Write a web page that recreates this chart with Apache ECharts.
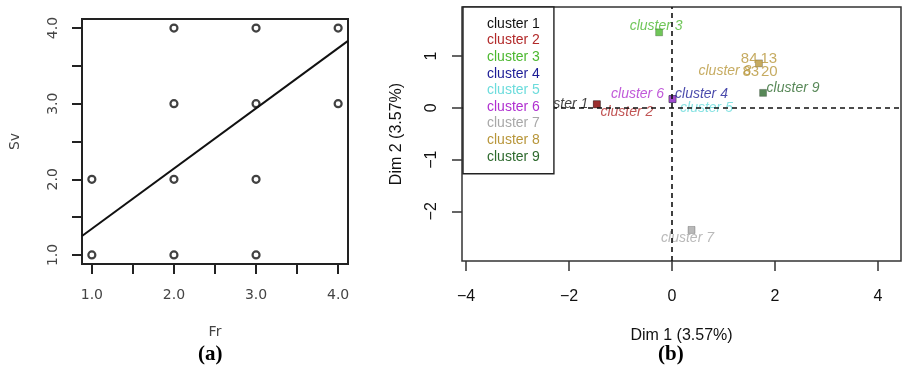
<!DOCTYPE html>
<html>
<head>
<meta charset="utf-8">
<script src="https://cdn.jsdelivr.net/npm/echarts@6/dist/echarts.min.js"></script>
<style>html,body{margin:0;padding:0;background:#fff}#c{width:902px;height:376px}</style>
</head>
<body>
<div id="c"></div>
<script>
// ---- Panel (a) data ----
var frValues = [1, 1, 2, 2, 2, 2, 3, 3, 3, 3, 4, 4];
var svValues = [1, 2, 1, 2, 3, 4, 1, 2, 3, 4, 3, 4];
var fitLineX = [0.88, 4.12];
var fitLineY = [1.25, 3.83];
var aTickValues = [1, 1.5, 2, 2.5, 3, 3.5, 4];
var aLabelValues = [1, 2, 3, 4];

// ---- Panel (b) data ----
var clusterNames = ['cluster 1','cluster 2','cluster 3','cluster 4','cluster 5','cluster 6','cluster 7','cluster 8','cluster 9'];
var clusterDim1 = [-1.46, -1.46, -0.25, 0.01, 0.01, 0.01, 0.38, 1.69, 1.77];
var clusterDim2 = [0.07, 0.07, 1.46, 0.17, 0.17, 0.17, -2.36, 0.86, 0.29];
var clusterColors = ['#111111','#b22a2a','#4cb830','#1c1c96','#6cdcdc','#b030d0','#a8a8a8','#b8963a','#2e6a2e'];
var indNames = ['84', '13', '83', '20'];
var indDim1 = [1.50, 1.88, 1.53, 1.89];
var indDim2 = [0.95, 0.95, 0.70, 0.70];
var bTickX = [-4, -2, 0, 2, 4];
var bTickY = [-2, -1, 0, 1];

// label offsets for cluster names (style only)
var labelOffsets = [[-35,0],[30,8],[-3,-6],[29,-5],[34,9],[-35,-5],[-4,8],[-34,8],[30,-5]];

function minus(v){ return String(v).replace('-', '\u2212'); }

var series = [];
// Panel (a)
series.push({
  type: 'scatter', xAxisIndex: 0, yAxisIndex: 0,
  symbol: 'circle', symbolSize: 7,
  itemStyle: { color: 'rgba(255,255,255,0)', borderColor: '#111', borderWidth: 2.2 },
  data: frValues.map(function(x, i){ return [x, svValues[i]]; }),
  z: 3, silent: true
});
series.push({
  type: 'line', xAxisIndex: 0, yAxisIndex: 0,
  showSymbol: false, symbol: 'none',
  lineStyle: { color: '#111', width: 2 },
  data: fitLineX.map(function(x, i){ return [x, fitLineY[i]]; }),
  z: 2, silent: true
});
// Panel (b) dashed lines at 0
series.push({
  type: 'scatter', xAxisIndex: 1, yAxisIndex: 1, data: [], silent: true,
  markLine: {
    silent: true, symbol: 'none', label: { show: false },
    lineStyle: { color: '#111', type: [5, 4], width: 1.6 },
    data: [{ xAxis: 0 }, { yAxis: 0 }]
  }
});
clusterNames.forEach(function(name, i){
  series.push({
    name: name, type: 'scatter', xAxisIndex: 1, yAxisIndex: 1,
    symbol: 'rect', symbolSize: 7,
    itemStyle: { color: clusterColors[i], borderColor: 'rgba(0,0,0,0.35)', borderWidth: 0.8 },
    label: {
      show: true, position: 'inside', offset: labelOffsets[i],
      formatter: name, color: clusterColors[i],
      fontFamily: 'Liberation Sans', fontStyle: 'italic', fontSize: 14
    },
    data: [[clusterDim1[i], clusterDim2[i]]],
    z: 3, silent: true
  });
});
series.push({
  type: 'scatter', xAxisIndex: 1, yAxisIndex: 1,
  symbolSize: 0,
  label: {
    show: true, position: 'inside', color: clusterColors[7],
    fontFamily: 'Liberation Sans', fontSize: 15,
    formatter: function(p){ return p.data[2]; }
  },
  data: indNames.map(function(n, i){ return [indDim1[i], indDim2[i], n]; }),
  z: 3, silent: true
});

var aAxisLabel = {
  customValues: aLabelValues,
  formatter: function(v){ return Number(v).toFixed(1); },
  color: '#444', fontFamily: 'DejaVu Sans', fontSize: 14
};
var bLabel = { fontFamily: 'Liberation Sans', fontSize: 16, color: '#111' };

var option = {
  animation: false,
  backgroundColor: '#fff',
  title: [
    { text: '(a)', left: 198, top: 344, padding: 0,
      textStyle: { fontFamily: 'Liberation Serif', fontWeight: 'bold', fontSize: 21, color: '#000' } },
    { text: '(b)', left: 658, top: 344, padding: 0,
      textStyle: { fontFamily: 'Liberation Serif', fontWeight: 'bold', fontSize: 21, color: '#000' } }
  ],
  legend: {
    left: 463, top: 7,
    orient: 'vertical',
    icon: 'none', itemWidth: 0, itemHeight: 14, itemGap: 2.6,
    padding: [10, 14, 10, 19],
    backgroundColor: '#fff', borderColor: '#222', borderWidth: 1.4,
    selectedMode: false,
    textStyle: { fontFamily: 'Liberation Sans', fontSize: 14 },
    data: clusterNames.map(function(n, i){ return { name: n, textStyle: { color: clusterColors[i] } }; }),
    z: 10
  },
  grid: [
    { left: 82, top: 19, width: 266, height: 245, show: true, borderColor: '#222', borderWidth: 2, backgroundColor: 'transparent' },
    { left: 462, top: 7, width: 439, height: 254, show: true, borderColor: '#333', borderWidth: 1.5, backgroundColor: 'transparent' }
  ],
  xAxis: [
    { gridIndex: 0, type: 'value', min: 0.88, max: 4.12,
      name: 'Fr', nameLocation: 'middle', nameGap: 61,
      nameTextStyle: { color: '#444', fontFamily: 'DejaVu Sans', fontSize: 14 },
      axisLine: { show: false, onZero: false }, splitLine: { show: false },
      axisTick: { show: true, customValues: aTickValues, length: 10, lineStyle: { color: '#222', width: 2 } },
      axisLabel: Object.assign({ margin: 24 }, aAxisLabel) },
    { gridIndex: 1, type: 'value', min: -4.08, max: 4.45,
      name: 'Dim 1 (3.57%)', nameLocation: 'middle', nameGap: 67,
      nameTextStyle: bLabel,
      axisLine: { show: false, onZero: false }, splitLine: { show: false },
      axisTick: { show: true, customValues: bTickX, length: 10, lineStyle: { color: '#333', width: 1.5 } },
      axisLabel: Object.assign({ customValues: bTickX, margin: 28, formatter: minus }, bLabel) }
  ],
  yAxis: [
    { gridIndex: 0, type: 'value', min: 0.88, max: 4.12,
      name: 'Sv', nameLocation: 'middle', nameGap: 60, nameRotate: 90,
      nameTextStyle: { color: '#444', fontFamily: 'DejaVu Sans', fontSize: 14 },
      axisLine: { show: false, onZero: false }, splitLine: { show: false },
      axisTick: { show: true, customValues: aTickValues, length: 10, lineStyle: { color: '#222', width: 2 } },
      axisLabel: Object.assign({ margin: 22, rotate: 90 }, aAxisLabel) },
    { gridIndex: 1, type: 'value', min: -2.96, max: 1.95,
      name: 'Dim 2 (3.57%)', nameLocation: 'middle', nameGap: 57, nameRotate: 90,
      nameTextStyle: bLabel,
      axisLine: { show: false, onZero: false }, splitLine: { show: false },
      axisTick: { show: true, customValues: bTickY, length: 10, lineStyle: { color: '#333', width: 1.5 } },
      axisLabel: Object.assign({ customValues: bTickY, margin: 22, rotate: 90, formatter: minus }, bLabel) }
  ],
  series: series
};

var chart = echarts.init(document.getElementById('c'), null, { renderer: 'canvas' });
chart.setOption(option);
</script>
</body>
</html>
